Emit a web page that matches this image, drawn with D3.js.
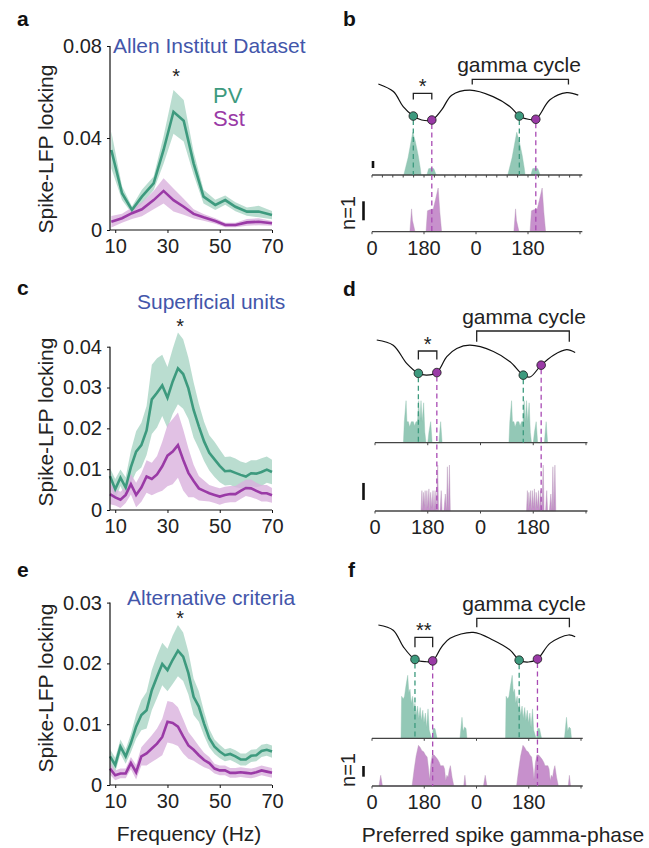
<!DOCTYPE html>
<html>
<head>
<meta charset="utf-8">
<script src="https://cdn.jsdelivr.net/npm/d3@7"></script>
<style>
  body { margin: 0; background: #fff; }
  svg { display: block; font-family: "Liberation Sans", Arial, Helvetica, sans-serif; }
</style>
</head>
<body>
<div id="chart"></div>
<script>
// ---- frequency panels (a, c, e) ----
const freqA = [8.5, 12.6, 16.4, 20.2, 24.7, 28.5, 32.3, 36.2, 40, 43.8, 48.3, 52.1, 56, 60.4, 64.9, 70];
const pvA = [0.0348, 0.016, 0.0087, 0.0145, 0.0203, 0.0348, 0.0514, 0.0475, 0.029, 0.0145, 0.0109, 0.013, 0.0101, 0.008, 0.008, 0.0065];
const pvAErr = [0.008, 0.003, 0.0015, 0.003, 0.003, 0.006, 0.0095, 0.009, 0.005, 0.003, 0.0022, 0.002, 0.002, 0.0018, 0.0025, 0.0018];
const sstA = [0.0036, 0.0051, 0.0073, 0.009, 0.013, 0.017, 0.013, 0.0101, 0.007, 0.0055, 0.0039, 0.0022, 0.0022, 0.0033, 0.0036, 0.0029];
const sstAErr = [0.0025, 0.002, 0.0025, 0.003, 0.004, 0.0055, 0.005, 0.0035, 0.002, 0.0015, 0.0012, 0.001, 0.001, 0.0015, 0.0015, 0.001];

const freqCE = [8, 10, 12, 14, 16, 18, 20, 22, 24, 26, 28, 30, 32, 34, 36, 38, 40, 42, 44, 46, 48, 50, 52, 54, 56, 58, 60, 62, 64, 66, 68, 70];
const pvC = [0.0083, 0.0051, 0.0079, 0.0055, 0.0105, 0.0143, 0.0159, 0.0195, 0.0271, 0.0287, 0.0305, 0.0275, 0.0315, 0.0347, 0.0333, 0.0298, 0.0245, 0.0205, 0.0168, 0.014, 0.0124, 0.0108, 0.0095, 0.0096, 0.0091, 0.0086, 0.0082, 0.009, 0.0089, 0.0093, 0.0099, 0.0093];
const pvCErr = [0.002, 0.0025, 0.002, 0.0025, 0.004, 0.005, 0.0055, 0.006, 0.0085, 0.0085, 0.0075, 0.0075, 0.008, 0.0088, 0.0085, 0.0075, 0.0068, 0.0055, 0.0048, 0.0043, 0.0043, 0.004, 0.0035, 0.0035, 0.0035, 0.0033, 0.0033, 0.0032, 0.0033, 0.0034, 0.0032, 0.003];
const sstC = [0.0039, 0.0031, 0.0025, 0.0037, 0.0063, 0.0037, 0.0055, 0.0082, 0.0076, 0.0087, 0.0107, 0.0133, 0.0143, 0.0159, 0.0123, 0.0091, 0.0071, 0.0053, 0.0047, 0.0041, 0.0037, 0.0033, 0.0037, 0.0039, 0.0039, 0.0047, 0.0054, 0.0053, 0.0047, 0.0041, 0.0041, 0.0036];
const sstCErr = [0.0025, 0.002, 0.002, 0.002, 0.0025, 0.003, 0.0035, 0.004, 0.004, 0.0045, 0.006, 0.0075, 0.008, 0.008, 0.0075, 0.006, 0.004, 0.003, 0.0025, 0.002, 0.002, 0.002, 0.002, 0.002, 0.002, 0.002, 0.002, 0.0022, 0.002, 0.002, 0.002, 0.0018];

const pvE = [0.0047, 0.0033, 0.0063, 0.0047, 0.0069, 0.0096, 0.0115, 0.0123, 0.0156, 0.0178, 0.0199, 0.0189, 0.0206, 0.0221, 0.0211, 0.0184, 0.0145, 0.0129, 0.0101, 0.0077, 0.0063, 0.0055, 0.0049, 0.0051, 0.0047, 0.0042, 0.0042, 0.0048, 0.0049, 0.0056, 0.0058, 0.0055];
const pvEErr = [0.0012, 0.0012, 0.0012, 0.0012, 0.0015, 0.002, 0.0025, 0.003, 0.0033, 0.0035, 0.0035, 0.0035, 0.004, 0.0042, 0.004, 0.0035, 0.003, 0.0025, 0.002, 0.0015, 0.0012, 0.0011, 0.001, 0.001, 0.001, 0.001, 0.001, 0.001, 0.001, 0.001, 0.001, 0.001];
const sstE = [0.0027, 0.0016, 0.0019, 0.0019, 0.0036, 0.0021, 0.0047, 0.0052, 0.006, 0.0068, 0.0079, 0.0104, 0.0102, 0.0096, 0.008, 0.0065, 0.0058, 0.0049, 0.0041, 0.0036, 0.0027, 0.0024, 0.0024, 0.002, 0.002, 0.0021, 0.002, 0.0019, 0.0021, 0.0024, 0.0022, 0.002];
const sstEErr = [0.001, 0.0008, 0.0008, 0.0008, 0.001, 0.0012, 0.0015, 0.002, 0.0022, 0.0025, 0.003, 0.0034, 0.0034, 0.0032, 0.0028, 0.0022, 0.0018, 0.0015, 0.0012, 0.001, 0.0008, 0.0008, 0.0008, 0.0008, 0.0008, 0.0008, 0.0008, 0.0008, 0.0008, 0.0008, 0.0008, 0.0008];

const freqTicks = [10, 30, 50, 70];

// ---- phase panels (b, d, f): one cycle of data, drawn twice ----
const phaseTicks = [0, 180, 360, 540];
const phaseTickLabels = ['0', '180', '0', '180'];

const wavePhaseB = [22, 74, 108, 143, 172, 207, 241, 276, 339, 419, 478, 510, 541, 567, 616, 674, 714];
const waveAmpB = [1.0, 0.79, 0.37, 0.11, 0.0, 0.0, 0.28, 0.69, 0.83, 0.65, 0.37, 0.11, 0.02, 0.02, 0.56, 0.76, 0.69];
const wavePhaseD = [6, 62, 108, 148, 176, 211, 245, 279, 324, 404, 461, 506, 529, 567, 609, 654, 683];
const waveAmpD = [1.0, 0.86, 0.37, 0.1, 0.05, 0.12, 0.55, 0.77, 0.86, 0.69, 0.41, 0.05, 0.0, 0.32, 0.59, 0.74, 0.66];
const wavePhaseF = [22, 73, 108, 148, 183, 209, 240, 269, 349, 418, 476, 507, 539, 570, 614, 677, 700];
const waveAmpF = [1.0, 0.86, 0.41, 0.07, 0.01, 0.03, 0.41, 0.64, 0.80, 0.59, 0.32, 0.05, 0.0, 0.08, 0.51, 0.73, 0.68];

const pvDotsB = [143, 510], sstDotsB = [207, 567];
const pvDotsD = [148, 506], sstDotsD = [211, 567];
const pvDotsF = [148, 507], sstDotsF = [209, 570];

const pvHistPhaseB = [110, 125, 141, 150, 160, 167, 170, 190, 196, 206, 214, 222];
const pvHistB = [0, 2.5, 6.1, 4.8, 2.8, 1, 0, 0, 0.9, 1, 0.9, 0];
const sstHistPhaseB = [131, 137, 140, 149, 187, 192, 200, 212, 220, 229, 235, 241];
const sstHistB = [0, 1.2, 0.6, 0, 0, 1.1, 1.15, 1.2, 1.7, 2.3, 1.0, 0];

const pvHistPhaseD = [97, 100, 106, 109, 114, 118, 124, 131, 135, 140, 145, 149, 153, 157, 161, 166, 170, 174, 180, 184, 190, 195, 218, 224, 229];
const pvHistD = [0, 2, 4, 2, 2, 1.5, 2, 2, 1.6, 2, 2, 4, 2, 4, 2, 3.8, 1, 0, 0, 1, 2, 0, 0, 2, 0];
const sstHistPhaseD = [157, 160, 163, 165, 168, 171, 174, 177, 180, 184, 187, 190, 194, 198, 201, 205, 209, 214, 217, 222, 226, 229, 235, 240, 244, 247, 250, 254, 257];
const sstHistD = [0, 1.2, 0, 1.1, 0.3, 1.2, 0, 1.2, 0.2, 1.3, 0, 1.1, 0.2, 1.2, 0, 1.2, 0, 2.7, 0, 0, 1.2, 0, 0, 1, 0, 2.6, 0, 2.7, 0];

const pvHistPhaseF = [100, 102, 108, 112, 117, 123, 127, 131, 135, 140, 144, 148, 152, 157, 161, 166, 170, 175, 179, 184, 188, 193, 197, 201, 205, 207, 211, 217, 224, 303, 310, 314, 319, 324, 327];
const pvHistF = [0, 6, 5.6, 6, 7.5, 9, 6.5, 7, 5, 6, 4.2, 5, 3.3, 4.6, 2.8, 4.4, 2.5, 4, 2.2, 3.6, 1.5, 4.2, 1.2, 0.6, 0, 0, 1.4, 1.4, 0, 0, 3, 1, 1.6, 1.4, 0];
const sstHistPhaseF = [24, 30, 36, 138, 145, 152, 160, 166, 172, 178, 184, 190, 195, 198, 203, 208, 214, 220, 226, 232, 236, 240, 246, 250, 254, 258, 262, 266, 270, 276, 282, 316, 320, 324];
const sstHistF = [0, 1, 0, 0, 1.5, 2.8, 3.8, 3.6, 3.3, 3.2, 2.9, 2.7, 1.6, 0.6, 2.2, 2.9, 2.9, 2.7, 2.5, 2.2, 1.9, 1.9, 1.9, 1.6, 0.5, 1, 0.8, 1.5, 1.9, 0.8, 0, 0, 1, 0];

const pvColor = '#3d9a7e', sstColor = '#9a3aa6';
const pvBand = '#b3d9cb', sstBand = '#d9b1dd';
const pvHistFill = '#93c8b6', sstHistFill = '#c790cc';
const titleColor = '#4356aa';

const svg = d3.select('#chart').append('svg')
	.attr('width', 649).attr('height', 848)
	.style('background', '#fff');

const zip = (xs, ...cols) => xs.map((x, i) => [x, ...cols.map(c => c[i])]);

function panelLetter(t, x, y) {
	svg.append('text').attr('x', x).attr('y', y)
		.attr('font-size', 21).attr('font-weight', 'bold').attr('fill', '#111').text(t);
}

function drawFreqPanel(p) {
	const x = d3.scaleLinear().domain([8, 70]).range([110, 272]);
	const y = d3.scaleLinear().domain([0, p.yMax]).range([p.y0, p.yTop]);
	const g = svg.append('g');

	const band = d3.area()
		.x(d => x(d[0]))
		.y0(d => y(Math.max(0, d[1] - d[2])))
		.y1(d => y(d[1] + d[2]));
	const line = d3.line().x(d => x(d[0])).y(d => y(d[1]));

	const pv = zip(p.freq, p.pv, p.pvErr), sst = zip(p.freq, p.sst, p.sstErr);
	g.append('path').attr('d', band(pv)).attr('fill', pvBand).attr('opacity', 0.9);
	g.append('path').attr('d', band(sst)).attr('fill', sstBand).attr('opacity', 0.8);
	g.append('path').attr('d', line(pv)).attr('fill', 'none').attr('stroke', pvColor).attr('stroke-width', 2.6);
	g.append('path').attr('d', line(sst)).attr('fill', 'none').attr('stroke', sstColor).attr('stroke-width', 2.6);

	const yAxis = g.append('g').attr('transform', 'translate(110,0)')
		.call(d3.axisLeft(y).tickValues(p.yTicks).tickSize(3).tickPadding(5)
			.tickFormat(d => d === 0 ? '0' : d.toFixed(2)));
	const xAxis = g.append('g').attr('transform', 'translate(0,' + p.y0 + ')')
		.call(d3.axisBottom(x).tickValues(freqTicks).tickSize(3).tickPadding(6));
	[xAxis, yAxis].forEach(a => {
		a.select('.domain').attr('stroke', '#111').attr('stroke-width', 1.2);
		a.selectAll('.tick line').attr('stroke', '#111');
		a.selectAll('text').attr('font-size', 20).attr('fill', '#222').attr('font-family', null);
	});
	// square off the axis ends like the original
	yAxis.select('.domain').attr('d', 'M0,' + p.yTop + 'V' + p.y0);
	xAxis.select('.domain').attr('d', 'M110,0H272');

	g.append('text').attr('transform', 'translate(53,' + p.labelY + ') rotate(-90)')
		.attr('text-anchor', 'middle').attr('font-size', 21).attr('fill', '#222')
		.text('Spike-LFP locking');
	g.append('text').attr('x', p.titleX).attr('y', p.titleY)
		.attr('font-size', 21).attr('fill', titleColor).text(p.title);
	g.append('text').attr('x', x(p.starF)).attr('y', p.starY).attr('text-anchor', 'middle')
		.attr('font-size', 20).attr('fill', '#222').text('*');
	if (p.legend) {
		g.append('text').attr('x', 213).attr('y', 103).attr('font-size', 22).attr('fill', pvColor).text('PV');
		g.append('text').attr('x', 213).attr('y', 126).attr('font-size', 22).attr('fill', sstColor).text('Sst');
	}
	panelLetter(p.letter, 17, p.letterY);
}

function drawPhasePanel(p) {
	const x = d3.scaleLinear().domain([0, 720]).range(p.xRange);
	const wy = d3.scaleLinear().domain([0, 1]).range([p.waveLow, p.waveHigh]);
	const topY = c => p.topBase - c * p.topUnit;
	const botY = c => p.botBase - c * p.botUnit;
	const g = svg.append('g');

	const histArea = (yf, shift) => d3.area()
		.x(d => x(d[0] + shift)).y0(yf(0)).y1(d => yf(d[1]));
	[0, 360].forEach(k => {
		g.append('path').attr('d', histArea(topY, k)(zip(p.pvPhase, p.pvHist)))
			.attr('fill', pvHistFill).attr('stroke', '#8dbfae').attr('stroke-width', 0.4);
		g.append('path').attr('d', histArea(botY, k)(zip(p.sstPhase, p.sstHist)))
			.attr('fill', sstHistFill).attr('stroke', '#b394b5').attr('stroke-width', 0.4);
	});

	// histogram baselines
	[p.topBase, p.botBase].forEach((b, i) => {
		g.append('line').attr('x1', x(0)).attr('x2', x(p.axisEnd)).attr('y1', b).attr('y2', b)
			.attr('stroke', '#444').attr('stroke-width', 1.3);
		const tk = (i === 0 && p.denseTicks) ? d3.range(0, p.axisEnd, 36) : [0, 180, 360, 540, 720];
		g.selectAll(null).data(tk).enter().append('line')
			.attr('x1', d => x(d)).attr('x2', d => x(d))
			.attr('y1', b).attr('y2', b + 2.5)
			.attr('stroke', '#444').attr('stroke-width', 1);
	});
	g.selectAll(null).data(phaseTicks).enter().append('text')
		.attr('x', d => x(d)).attr('y', p.botBase + 23)
		.attr('text-anchor', 'middle').attr('font-size', 20).attr('fill', '#222')
		.text((d, i) => phaseTickLabels[i]);

	// waveform
	const wave = zip(p.wavePhase, p.waveAmp);
	const ampAt = ph => wave.find(d => d[0] === ph)[1];
	p.pvDots.forEach(ph => {
		g.append('line').attr('x1', x(ph)).attr('x2', x(ph)).attr('y1', wy(ampAt(ph)) + 4).attr('y2', p.topBase)
			.attr('stroke', pvColor).attr('stroke-width', 1.3).attr('stroke-dasharray', '5,3.5');
	});
	p.sstDots.forEach(ph => {
		g.append('line').attr('x1', x(ph)).attr('x2', x(ph)).attr('y1', wy(ampAt(ph)) + 4).attr('y2', p.botBase)
			.attr('stroke', '#a94bb4').attr('stroke-width', 1.3).attr('stroke-dasharray', '5,3.5');
	});
	g.append('path')
		.attr('d', d3.line().x(d => x(d[0])).y(d => wy(d[1])).curve(d3.curveCatmullRom.alpha(0.5))(wave))
		.attr('fill', 'none').attr('stroke', '#111').attr('stroke-width', 1.2);
	g.selectAll(null).data(p.pvDots).enter().append('circle')
		.attr('cx', d => x(d)).attr('cy', d => wy(ampAt(d))).attr('r', 4.3)
		.attr('fill', pvColor).attr('stroke', '#1a1a1a').attr('stroke-width', 0.8);
	g.selectAll(null).data(p.sstDots).enter().append('circle')
		.attr('cx', d => x(d)).attr('cy', d => wy(ampAt(d))).attr('r', 4.3)
		.attr('fill', sstColor).attr('stroke', '#1a1a1a').attr('stroke-width', 0.8);

	// significance bracket
	const bx0 = x(p.pvDots[0]), bx1 = x(p.sstDots[0]);
	g.append('path').attr('d', 'M' + bx0 + ',' + p.brLow + 'V' + p.brTop + 'H' + bx1 + 'V' + p.brLow)
		.attr('fill', 'none').attr('stroke', '#222').attr('stroke-width', 1.3);
	g.append('text').attr('x', (bx0 + bx1) / 2).attr('y', p.brTop - 0.5).attr('text-anchor', 'middle')
		.attr('font-size', 20).attr('fill', '#222').text(p.stars);

	// gamma cycle bracket
	const gx0 = x(p.cycle[0]), gx1 = x(p.cycle[1]);
	g.append('path').attr('d', 'M' + gx0 + ',' + p.cycLow + 'V' + p.cycTop + 'H' + gx1 + 'V' + p.cycLow)
		.attr('fill', 'none').attr('stroke', '#222').attr('stroke-width', 1.3);
	g.append('text').attr('x', p.cycTextX).attr('y', p.cycTextY).attr('text-anchor', 'middle')
		.attr('font-size', 21).attr('fill', '#222').text('gamma cycle');

	// n=1 scale bars
	p.bars.forEach(b => {
		const yf = b.top ? topY : botY;
		g.append('line').attr('x1', b.x).attr('x2', b.x).attr('y1', yf(b.from)).attr('y2', yf(b.from + 1))
			.attr('stroke', '#111').attr('stroke-width', 2.6);
	});
	if (p.nLabel) {
		g.append('text').attr('transform', 'translate(355,' + p.nLabel + ') rotate(-90)')
			.attr('text-anchor', 'middle').attr('font-size', 20).attr('fill', '#222').text('n=1');
	}
	panelLetter(p.letter, p.letterX, p.letterY);
}

drawFreqPanel({ letter: 'a', letterY: 26, freq: freqA, pv: pvA, pvErr: pvAErr, sst: sstA, sstErr: sstAErr,
	yMax: 0.08, yTicks: [0, 0.04, 0.08], y0: 230, yTop: 46, labelY: 149,
	title: 'Allen Institut Dataset', titleX: 113, titleY: 53, starF: 33.3, starY: 83, legend: true });
drawFreqPanel({ letter: 'c', letterY: 295, freq: freqCE, pv: pvC, pvErr: pvCErr, sst: sstC, sstErr: sstCErr,
	yMax: 0.04, yTicks: [0, 0.01, 0.02, 0.03, 0.04], y0: 510, yTop: 346.7, labelY: 422,
	title: 'Superficial units', titleX: 137, titleY: 309, starF: 34.8, starY: 333 });
drawFreqPanel({ letter: 'e', letterY: 577, freq: freqCE, pv: pvE, pvErr: pvEErr, sst: sstE, sstErr: sstEErr,
	yMax: 0.03, yTicks: [0, 0.01, 0.02, 0.03], y0: 785, yTop: 602.6, labelY: 688,
	title: 'Alternative criteria', titleX: 127, titleY: 605, starF: 34.8, starY: 625 });

drawPhasePanel({ letter: 'b', letterX: 343, letterY: 26, xRange: [372, 580], axisEnd: 728, denseTicks: true,
	waveLow: 120, waveHigh: 84, wavePhase: wavePhaseB, waveAmp: waveAmpB, pvDots: pvDotsB, sstDots: sstDotsB,
	topBase: 175, topUnit: 7, botBase: 231.7, botUnit: 19,
	pvPhase: pvHistPhaseB, pvHist: pvHistB, sstPhase: sstHistPhaseB, sstHist: sstHistB,
	brTop: 93.3, brLow: 99.5, stars: '*', cycle: [347, 680], cycTop: 79.3, cycLow: 84.5, cycTextX: 519, cycTextY: 72,
	bars: [{ top: true, x: 373, from: 1 }, { top: false, x: 363.5, from: 0.6 }], nLabel: 213 });
drawPhasePanel({ letter: 'd', letterX: 343, letterY: 296, xRange: [375, 586], axisEnd: 725,
	waveLow: 377, waveHigh: 340, wavePhase: wavePhaseD, waveAmp: waveAmpD, pvDots: pvDotsD, sstDots: sstDotsD,
	topBase: 442.7, topUnit: 10.5, botBase: 511, botUnit: 17,
	pvPhase: pvHistPhaseD, pvHist: pvHistD, sstPhase: sstHistPhaseD, sstHist: sstHistD,
	brTop: 351, brLow: 359.5, stars: '*', cycle: [347, 663], cycTop: 331, cycLow: 341.7, cycTextX: 524, cycTextY: 324,
	bars: [{ top: false, x: 363.5, from: 0.65 }] });
drawPhasePanel({ letter: 'f', letterX: 348, letterY: 577, xRange: [372, 581], axisEnd: 726,
	waveLow: 662, waveHigh: 625, wavePhase: wavePhaseF, waveAmp: waveAmpF, pvDots: pvDotsF, sstDots: sstDotsF,
	topBase: 738.3, topUnit: 7, botBase: 786, botUnit: 10.7,
	pvPhase: pvHistPhaseF, pvHist: pvHistF, sstPhase: sstHistPhaseF, sstHist: sstHistF,
	brTop: 637.3, brLow: 647.3, stars: '**', cycle: [361, 680], cycTop: 618.3, cycLow: 627.3, cycTextX: 524, cycTextY: 610.5,
	bars: [{ top: false, x: 363.5, from: 0.87 }], nLabel: 770 });

svg.append('text').attr('x', 189).attr('y', 841).attr('text-anchor', 'middle')
	.attr('font-size', 21).attr('fill', '#222').text('Frequency (Hz)');
svg.append('text').attr('x', 503).attr('y', 842).attr('text-anchor', 'middle')
	.attr('font-size', 21).attr('fill', '#222').text('Preferred spike gamma-phase');
</script>
</body>
</html>
